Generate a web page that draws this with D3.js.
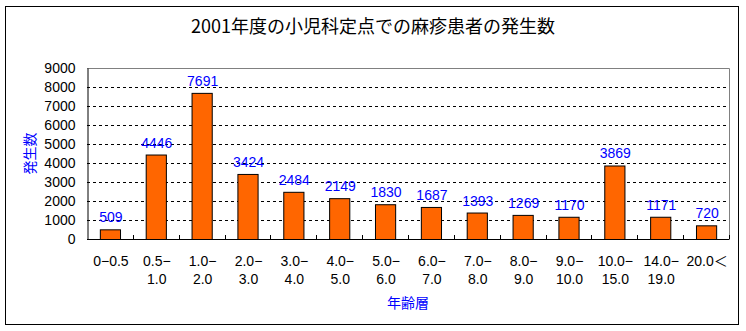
<!DOCTYPE html>
<html><head><meta charset="utf-8">
<script src="https://cdn.jsdelivr.net/npm/d3@7"></script>
<style>
html,body{margin:0;padding:0;background:#fff;}
text{font-family:"Liberation Sans","Noto Sans CJK JP",sans-serif;}
.cjk{font-family:"Noto Sans CJK JP","Liberation Sans",sans-serif;}
</style></head>
<body>
<svg id="chart" width="746" height="331"></svg>
<script>
const title = "2001年度の小児科定点での麻疹患者の発生数";
const xTitle = "年齢層";
const yTitle = "発生数";
const categories = ["0−0.5","0.5−\n1.0","1.0−\n2.0","2.0−\n3.0","3.0−\n4.0","4.0−\n5.0","5.0−\n6.0","6.0−\n7.0","7.0−\n8.0","8.0−\n9.0","9.0−\n10.0","10.0−\n15.0","14.0−\n19.0","20.0＜"];
const values = [509,4446,7691,3424,2484,2149,1830,1687,1393,1269,1170,3869,1171,720];
const yTicks = [0,1000,2000,3000,4000,5000,6000,7000,8000,9000];

const svg = d3.select("#chart");
const plot = {left:87, right:729, top:68, bottom:239};

// outer frame
svg.append("rect").attr("x",5.5).attr("y",6.5).attr("width",733).attr("height",318)
  .attr("fill","#fff").attr("stroke","#000").attr("stroke-width",1);

const x = d3.scaleBand().domain(categories.map((d,i)=>i)).range([plot.left, plot.right]).paddingInner(0.56).paddingOuter(0.28);
const y = d3.scaleLinear().domain([0,9000]).range([plot.bottom, plot.top]);

// plot border (top/right gray)
svg.append("path")
  .attr("d",`M${plot.left},${plot.top+0.5}H${plot.right+0.5}V${plot.bottom}`)
  .attr("fill","none").attr("stroke","#808080").attr("stroke-width",1);

// gridlines
svg.append("g").selectAll("line").data(yTicks.filter(t=>t>0 && t<9000)).join("line")
  .attr("x1",plot.left).attr("x2",plot.right)
  .attr("y1",d=>Math.round(y(d))+0.5).attr("y2",d=>Math.round(y(d))+0.5)
  .attr("stroke","#000").attr("stroke-width",1).attr("stroke-dasharray","3,3");

// y axis
const yAxis = d3.axisLeft(y).tickValues(yTicks).tickFormat(d3.format("d")).tickSize(0).tickPadding(12);
const gy = svg.append("g").attr("transform",`translate(${plot.left+0.5},0)`).call(yAxis);
gy.select(".domain").attr("stroke","#000");
gy.selectAll("text").attr("font-size",14).attr("fill","#000")
  .style("font-family","'Liberation Sans',sans-serif");

// bars
svg.append("g").selectAll("rect").data(values).join("rect")
  .attr("x",(d,i)=>x(i)+0.5).attr("width",x.bandwidth())
  .attr("y",d=>y(d)+0.5).attr("height",d=>plot.bottom-y(d))
  .attr("fill","#FF6600").attr("stroke","#000").attr("stroke-width",1);

// x axis
const boundaries = d3.range(1, categories.length+1).map(i=>plot.left + (i)*(plot.right-plot.left)/categories.length);
svg.append("line").attr("x1",plot.left).attr("x2",plot.right+0.5)
  .attr("y1",plot.bottom+0.5).attr("y2",plot.bottom+0.5).attr("stroke","#000");
svg.append("g").selectAll("line").data(boundaries).join("line")
  .attr("x1",d=>Math.round(d)+0.5).attr("x2",d=>Math.round(d)+0.5)
  .attr("y1",plot.bottom-4).attr("y2",plot.bottom)
  .attr("stroke","#000");

// x tick labels
const xl = svg.append("g").selectAll("text").data(categories).join("text")
  .attr("x",(d,i)=>x(i)+x.bandwidth()/2+1)
  .attr("y",266)
  .attr("text-anchor","middle")
  .attr("font-size",14).attr("fill","#000");
xl.each(function(d){
  const lines = d.split("\n");
  const t = d3.select(this);
  lines.forEach((ln,k)=>{
    t.append("tspan").attr("x",t.attr("x")).attr("dy",k===0?0:18).text(ln);
  });
});

// data labels
svg.append("g").selectAll("text").data(values).join("text")
  .attr("x",(d,i)=>x(i)+x.bandwidth()/2+1)
  .attr("y",d=>y(d)-7)
  .attr("text-anchor","middle")
  .attr("font-size",14).attr("fill","#0000FF")
  .text(d=>d);

// titles
svg.append("text").attr("class","cjk").attr("x",373).attr("y",33)
  .attr("text-anchor","middle").attr("font-size",18).attr("fill","#000").text(title);
svg.append("text").attr("class","cjk").attr("x",(plot.left+plot.right)/2).attr("y",308)
  .attr("text-anchor","middle").attr("font-size",14).attr("fill","#0000FF").text(xTitle);
svg.append("text").attr("class","cjk")
  .attr("transform",`translate(35,${(plot.top+plot.bottom)/2}) rotate(-90)`)
  .attr("text-anchor","middle").attr("font-size",14).attr("fill","#0000FF").text(yTitle);
</script>
</body></html>
